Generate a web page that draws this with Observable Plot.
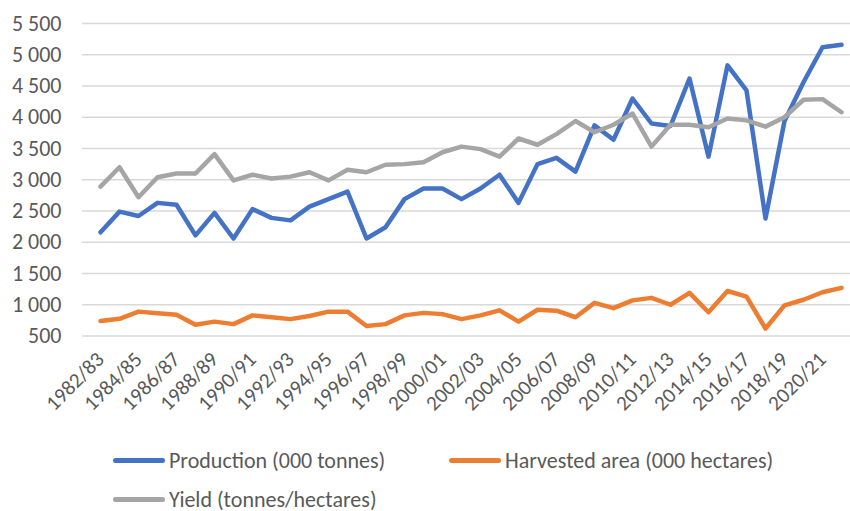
<!DOCTYPE html>
<html>
<head>
<meta charset="utf-8">
<script src="https://cdn.jsdelivr.net/npm/d3@7"></script>
<script src="https://cdn.jsdelivr.net/npm/@observablehq/plot@0.6"></script>
<style>
  html, body { margin: 0; padding: 0; background: #fff; overflow: hidden; }
  body { width: 850px; height: 511px; font-family: Carlito, Lato, "Open Sans", sans-serif; color: #595959; }
  #legend { display: flex; flex-wrap: wrap; width: 672px; padding-left: 113px; padding-top: 1px; }
  .item { display: flex; align-items: center; width: 336px; height: 39px; font-size: 22px; line-height: 24px; }
  .sw { width: 52px; height: 4.5px; border-radius: 3px; margin-right: 4px; }
</style>
</head>
<body>
<div id="chart"></div>
<div id="legend"></div>
<script>
const seasons = ["1982/83","1983/84","1984/85","1985/86","1986/87","1987/88","1988/89","1989/90","1990/91","1991/92",
  "1992/93","1993/94","1994/95","1995/96","1996/97","1997/98","1998/99","1999/00","2000/01","2001/02",
  "2002/03","2003/04","2004/05","2005/06","2006/07","2007/08","2008/09","2009/10","2010/11","2011/12",
  "2012/13","2013/14","2014/15","2015/16","2016/17","2017/18","2018/19","2019/20","2020/21","2021/22"];
const production = [2160,2490,2420,2630,2600,2110,2470,2060,2530,2390,2350,2570,2690,2810,2060,2240,2690,2860,2860,2690,
  2860,3080,2630,3250,3350,3130,3870,3640,4300,3900,3860,4620,3370,4830,4430,2380,3940,4560,5120,5160];
const harvestedArea = [740,775,890,865,840,680,730,690,830,800,770,820,890,890,660,690,830,870,850,770,
  830,910,730,920,905,800,1030,945,1070,1110,1000,1190,880,1220,1130,620,990,1080,1200,1270];
const yieldValues = [2890,3200,2720,3040,3100,3100,3410,2990,3080,3020,3050,3120,2990,3160,3120,3240,3250,3280,3440,3530,
  3490,3370,3660,3560,3730,3940,3760,3880,4060,3530,3880,3880,3840,3980,3950,3850,4000,4280,4290,4080];
const seriesNames = ["Production (000 tonnes)", "Harvested area (000 hectares)", "Yield (tonnes/hectares)"];
const seriesColors = ["#4472C4", "#ED7D31", "#A5A5A5"];
const xTickLabels = ["1982/83","1984/85","1986/87","1988/89","1990/91","1992/93","1994/95","1996/97","1998/99","2000/01",
  "2002/03","2004/05","2006/07","2008/09","2010/11","2012/13","2014/15","2016/17","2018/19","2020/21"];
const yTicks = [500,1000,1500,2000,2500,3000,3500,4000,4500,5000,5500];

const seriesValues = [production, harvestedArea, yieldValues];
const rows = [];
seriesNames.forEach((name, k) => {
  seasons.forEach((s, i) => rows.push({series: name, season: s, value: seriesValues[k][i]}));
});

const fmt = v => d3.format(",")(v).replace(/,/g, " ");

const chart = Plot.plot({
  width: 850,
  height: 440,
  marginLeft: 82,
  marginRight: 0,
  marginTop: 23,
  marginBottom: 104.5,
  insetLeft: 9,
  style: { fontFamily: "Carlito, Lato, 'Open Sans', sans-serif", color: "#595959", background: "#fff" },
  x: { type: "point", domain: seasons, padding: 0 },
  y: { domain: [500, 5500] },
  color: { domain: seriesNames, range: seriesColors },
  marks: [
    Plot.gridY(yTicks, { stroke: "#d9d9d9", strokeOpacity: 1, strokeWidth: 1.5 }),
    Plot.axisY(yTicks, { tickSize: 0, tickPadding: 21, tickFormat: fmt, fontSize: 22, fill: "#595959", label: null }),
    Plot.axisX(xTickLabels, { tickSize: 0, tickPadding: 20, tickRotate: -45, fontSize: 21, fill: "#595959", label: null }),
    Plot.line(rows, { x: "season", y: "value", z: "series", stroke: "series", strokeWidth: 4.5, strokeLinejoin: "round", strokeLinecap: "round" })
  ]
});
document.getElementById("chart").appendChild(chart);

const legend = document.getElementById("legend");
seriesNames.forEach((name, k) => {
  const item = document.createElement("div");
  item.className = "item";
  const sw = document.createElement("span");
  sw.className = "sw";
  sw.style.background = seriesColors[k];
  const tx = document.createElement("span");
  tx.textContent = name;
  item.appendChild(sw);
  item.appendChild(tx);
  legend.appendChild(item);
});
</script>
</body>
</html>
